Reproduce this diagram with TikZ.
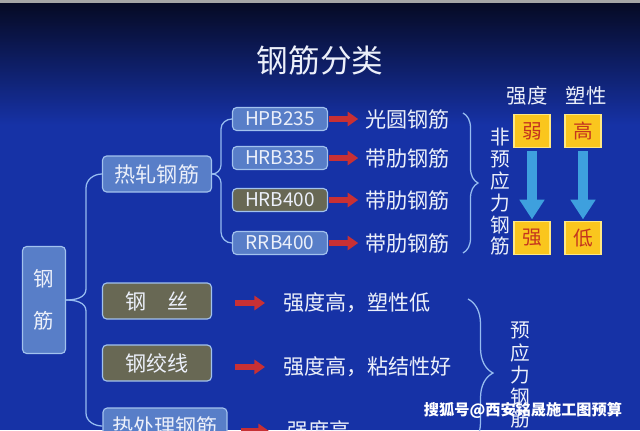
\documentclass[tikz,border=0pt]{standalone}
\usepackage{fontspec}
\setmainfont{Noto Sans CJK SC}
\usetikzlibrary{arrows.meta,decorations.pathreplacing}
\pgfdeclarelayer{background}
\pgfsetlayers{background,main}

\definecolor{bgtop}{RGB}{6,10,36}
\definecolor{bgmain}{RGB}{22,50,166}
\definecolor{boxblue}{RGB}{88,126,200}
\definecolor{boxedge}{RGB}{162,194,238}
\definecolor{boxolive}{RGB}{104,104,84}
\definecolor{linkblue}{RGB}{150,188,240}
\definecolor{txtwhite}{RGB}{236,240,250}
\definecolor{ylwfill}{RGB}{250,198,30}
\definecolor{ylwedge}{RGB}{255,232,130}
\definecolor{ylwtext}{RGB}{196,52,30}
\definecolor{arrred}{RGB}{200,48,52}
\definecolor{arrblue}{RGB}{62,160,222}

\tikzset{
  bluebox/.style={draw=boxedge, fill=boxblue, line width=0.8pt, rounded corners=3pt, text=txtwhite, inner sep=0pt},
  olivebox/.style={bluebox, fill=boxolive},
  grade/.style={minimum width=2.375cm, minimum height=0.575cm, font=\fontsize{13.5}{14}\selectfont},
  kind/.style={minimum width=2.725cm, minimum height=0.9cm, font=\fontsize{15}{16}\selectfont},
  plaintxt/.style={text=txtwhite, inner sep=0pt, font=\fontsize{15}{16}\selectfont},
  ylwbox/.style={draw=ylwedge, fill=ylwfill, line width=1pt, minimum width=0.9cm, minimum height=0.825cm, text=ylwtext, inner sep=0pt, font=\fontsize{14}{15}\selectfont},
  redarrow/.style={draw=arrred, line width=4.3pt, -{Triangle[length=7.5pt,width=10pt]}},
  bluearrow/.style={draw=arrblue, line width=7pt, -{Triangle[length=14pt,width=17pt]}},
  link/.style={draw=linkblue, line width=0.9pt},
  bracket/.style={link, decorate, decoration={brace, amplitude=#1}}
}

\begin{document}
\begin{tikzpicture}[x=0.025cm, y=-0.025cm]
\useasboundingbox (0,0) rectangle (640,430);
\begin{pgfonlayer}{background}
\fill[bgmain] (0,0) rectangle (640,430);
\shade[top color=bgtop, bottom color=bgmain] (0,3) rectangle (640,125);
\fill[gray!70] (0,0) rectangle (640,3);
\end{pgfonlayer}

\node[text=txtwhite, font=\fontsize{22.5}{24}\selectfont] (title) at (320,60) {钢筋分类};

% strength / plasticity
\node[plaintxt, font=\fontsize{14.5}{15}\selectfont] (qd) at (527,96) {强度};
\node[plaintxt, font=\fontsize{14.5}{15}\selectfont] (sx) at (586,96) {塑性};
\node[ylwbox] (ruo) at (532,131) {弱};
\node[ylwbox] (gao) at (583,131) {高};
\node[ylwbox] (qiang) at (532,238) {强};
\node[ylwbox] (di) at (583,238) {低};
\draw[bluearrow, shorten <=2pt, shorten >=1pt] (ruo) -- (qiang);
\draw[bluearrow, shorten <=2pt, shorten >=1pt] (gao) -- (di);
\node[plaintxt, align=center, font=\fontsize{14}{15.5}\selectfont] (fyy) at (500,192) {非\\预\\应\\力\\钢\\筋};

% hot rolled
\node[bluebox, grade] (hpb) at (280,119) {HPB235};
\node[bluebox, grade] (hrbA) at (280,158) {HRB335};
\node[olivebox, grade] (hrbB) at (280,200) {HRB400};
\node[bluebox, grade] (rrb) at (280,243) {RRB400};
\node[plaintxt, anchor=west] (t1) at (365,119) {光圆钢筋};
\node[plaintxt, anchor=west] (t2) at (365,158) {带肋钢筋};
\node[plaintxt, anchor=west] (t3) at (365,200) {带肋钢筋};
\node[plaintxt, anchor=west] (t4) at (365,243) {带肋钢筋};
\foreach \g/\t in {hpb/t1, hrbA/t2, hrbB/t3, rrb/t4}
  \draw[redarrow, shorten <=0.03cm, shorten >=0.17cm] (\g.east) -- (\t.west);

\coordinate (nb1) at (463,113);
\coordinate (nb2) at (463,253);
\draw[bracket=0.375cm] (nb1) -- (nb2);

% main tree
\node[bluebox, minimum width=1.075cm, minimum height=2.675cm, align=center, font=\fontsize{14.5}{30}\selectfont] (gj) at (44,300) {钢\\筋};
\node[bluebox, kind] (rz) at (157,174) {热轧钢筋};
\node[olivebox, kind] (gs) at (157,301) {钢\hspace{1em}丝};
\node[olivebox, kind] (gjx) at (157,363) {钢绞线};
\node[bluebox, kind, minimum width=3.1cm] (rcl) at (165,426) {热处理钢筋};

\draw[link] (hpb.west) to[out=180,in=90] (221,129) -- (221,165) to[out=-90,in=0] (rz.east);
\draw[link] (rz.east) to[out=0,in=90] (221,183) -- (221,232) to[out=-90,in=180] (rrb.west);
\draw[link] (rz.west) to[out=180,in=90] (86,188) -- (86,289) to[out=-90,in=0] (gj.east);
\draw[link] (gj.east) to[out=0,in=90] (86,311) -- (86,413) to[out=-90,in=180] (rcl.west);

% prestressed
\node[plaintxt, anchor=west] (p1) at (283,303) {强度高，塑性低};
\node[plaintxt, anchor=west] (p2) at (283,367) {强度高，粘结性好};
\node[plaintxt, anchor=west] (p3) at (287,431) {强度高};
\draw[redarrow, shorten <=0.58cm, shorten >=0.45cm] (gs.east |- p1.west) -- (p1.west);
\draw[redarrow, shorten <=0.58cm, shorten >=0.45cm] (gjx.east |- p2.west) -- (p2.west);
\draw[redarrow, shorten <=0.33cm, shorten >=0.45cm] (rcl.east |- p3.west) -- (p3.west);

\coordinate (pb1) at (468,299);
\coordinate (pb2) at (468,447);
\draw[bracket=0.625cm] (pb1) -- (pb2);
\node[plaintxt, align=center, font=\fontsize{14}{15.8}\selectfont, anchor=north] (yyl) at (520,322) {预\\应\\力\\钢\\筋};

\node[text=white, font=\bfseries\fontsize{10.8}{12}\selectfont] (wm) at (523,410) {搜狐号@西安铭晟施工图预算};
\end{tikzpicture}
\end{document}
